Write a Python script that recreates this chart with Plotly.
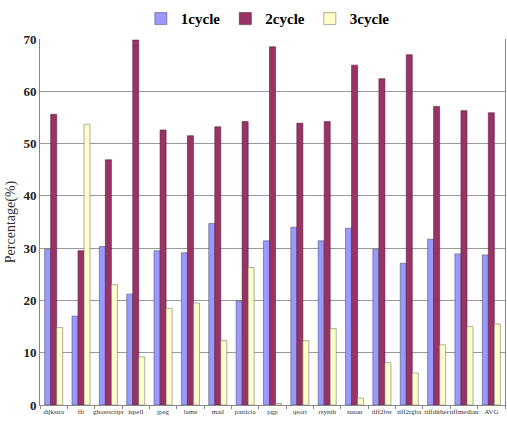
import plotly.graph_objects as go

categories = ["dijkstra", "fft", "ghostscript", "ispell", "jpeg", "lame", "mad", "patricia",
              "pgp", "qsort", "rsynth", "susan", "tiff2bw", "tiff2rgba", "tiffdither",
              "tiffmedian", "AVG"]
cycle1 = [29.8, 17.0, 30.3, 21.2, 29.5, 29.1, 34.7, 19.9, 31.4, 34.0, 31.4, 33.8, 29.8, 27.1, 31.7, 28.9, 28.7]
cycle2 = [55.6, 29.5, 46.9, 69.8, 52.6, 51.5, 53.2, 54.2, 68.5, 53.9, 54.2, 65.0, 62.4, 67.0, 57.1, 56.3, 55.9]
cycle3 = [14.8, 53.7, 23.0, 9.2, 18.5, 19.5, 12.3, 26.3, 0.3, 12.3, 14.6, 1.3, 8.1, 6.1, 11.5, 15.0, 15.5]
series_names = ["1cycle", "2cycle", "3cycle"]
y_ticks = [0, 10, 20, 30, 40, 50, 60, 70]

serif = "Liberation Serif"
colors = ["#9999FF", "#993366", "#FFFFCC"]
edges = ["#555577", "#5a1e3c", "#777766"]

fig = go.Figure()
for vals, nm, c, e in zip([cycle1, cycle2, cycle3], series_names, colors, edges):
    fig.add_trace(go.Bar(x=categories, y=vals, name="<b>" + nm + "</b>",
                         marker=dict(color=c, line=dict(color=e, width=0.6))))

fig.update_layout(
    width=507, height=435,
    margin=dict(l=40, r=2, t=33, b=30),
    paper_bgcolor="white", plot_bgcolor="white",
    barmode="group", bargap=0.34, bargroupgap=0.0,
    font=dict(family=serif, color="black"),
    showlegend=True,
    legend=dict(orientation="h", x=0.49, xanchor="center", y=1.055, yanchor="middle",
                font=dict(family="Liberation Serif", size=15, color="black"),
                itemwidth=30, tracegroupgap=0, bgcolor="rgba(0,0,0,0)"),
    xaxis=dict(type="category", showgrid=False, showline=True, linecolor="#888888",
               linewidth=1, ticks="outside", ticklen=3, tickcolor="#888888",
               tickson="boundaries", tickangle=0,
               tickfont=dict(family=serif, size=7, color="#333333"), mirror=False),
    yaxis=dict(range=[0, 70], tickvals=y_ticks, showgrid=True, gridcolor="#999999",
               gridwidth=1, showline=True, linecolor="#888888", linewidth=1,
               ticks="", mirror=True, zeroline=False,
               tickfont=dict(family=serif, size=13, color="#222222", weight="bold"),
               title=dict(text="Percentage(%)", standoff=4,
                          font=dict(family=serif, size=14, color="#333333"))),
)

fig.write_html("out.html")
